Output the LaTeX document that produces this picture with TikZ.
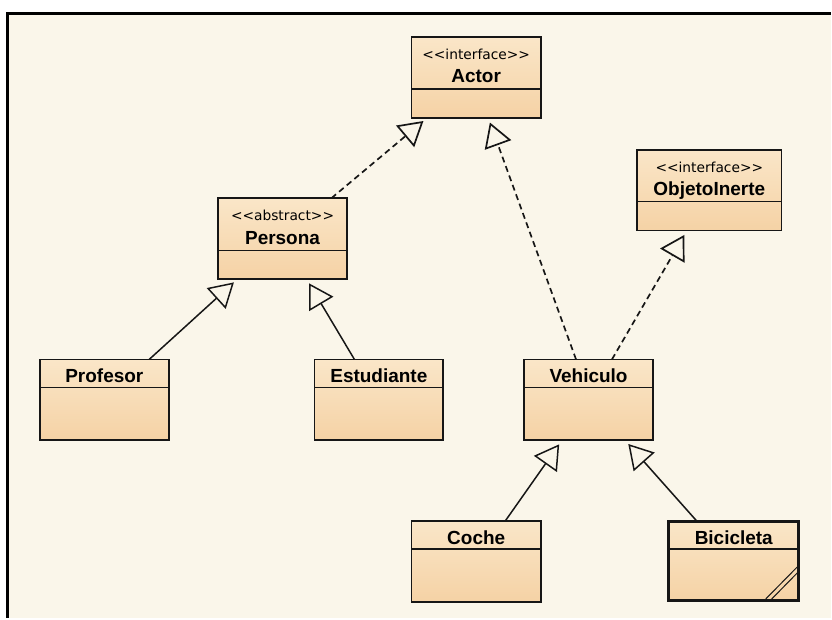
\documentclass[tikz,border=0pt]{standalone}
\usepackage{fontspec}
\setmainfont{Liberation Sans}
\newfontfamily\stereofont{DejaVu Sans}
\usetikzlibrary{arrows.meta,calc}
\definecolor{paper}{RGB}{250,246,234}
\definecolor{clsbody}{RGB}{245,210,165}
\definecolor{clshead}{RGB}{250,230,200}
\definecolor{ink}{RGB}{22,22,22}

\begin{document}
\begin{tikzpicture}[x=1pt,y=-1pt]

\tikzstyle{cls}=[draw=ink, line width=1.6pt, top color=clshead, bottom color=clsbody, minimum width=129pt, minimum height=81pt, inner sep=0pt, outer sep=0pt]
\tikzstyle{title}=[anchor=base, inner sep=0pt, font=\fontsize{19}{21}\selectfont\bfseries]
\tikzstyle{stereo}=[anchor=base, inner sep=0pt, font=\stereofont\fontsize{13.8}{15}\selectfont]
\tikzstyle{divider}=[draw=ink, line width=1.6pt]
\tikzstyle{gen}=[draw=ink, line width=1.5pt, -{Triangle[open, length=24pt, width=28pt]}, shorten >=5pt]
\tikzstyle{real}=[gen, line width=1.7pt, dash pattern=on 6pt off 4pt]

\fill[white] (0,0) rectangle (832,619);
\fill[paper] (7.3,13.3) rectangle (832,619);
\draw[line width=2.8pt, black] (7.3,619) -- (7.3,13.3) -- (832,13.3);

\node[cls, minimum width=130pt] (actor) at (477,77.5) {};
\node[stereo] (actorSt) at ($(actor.north)+(0,23)$) {<<interface>>};
\node[title] (actorNm) at ($(actor.north)+(0,46)$) {Actor};
\draw[divider] ($(actor.north west)+(0,52)$) -- ($(actor.north east)+(0,52)$);

\node[cls, minimum width=145pt] (objeto) at (710.5,190.5) {};
\node[stereo] (objetoSt) at ($(objeto.north)+(0,23)$) {<<interface>>};
\node[title] (objetoNm) at ($(objeto.north)+(0,46)$) {ObjetoInerte};
\draw[divider] ($(objeto.north west)+(0,52)$) -- ($(objeto.north east)+(0,52)$);

\node[cls] (persona) at (283,239) {};
\node[stereo] (personaSt) at ($(persona.north)+(0,22)$) {<<abstract>>};
\node[title] (personaNm) at ($(persona.north)+(0,46)$) {Persona};
\draw[divider] ($(persona.north west)+(0,52.5)$) -- ($(persona.north east)+(0,52.5)$);

\node[cls] (profesor) at (104.5,400.5) {};
\node[title] (profesorNm) at ($(profesor.north)+(0,23)$) {Profesor};
\draw[divider] ($(profesor.north west)+(0,28)$) -- ($(profesor.north east)+(0,28)$);

\node[cls] (estudiante) at (379.5,400.5) {};
\node[title] (estudianteNm) at ($(estudiante.north)+(0,23)$) {Estudiante};
\draw[divider] ($(estudiante.north west)+(0,28)$) -- ($(estudiante.north east)+(0,28)$);

\node[cls] (vehiculo) at (589.5,400.5) {};
\node[title] (vehiculoNm) at ($(vehiculo.north)+(0,23)$) {Vehiculo};
\draw[divider] ($(vehiculo.north west)+(0,28)$) -- ($(vehiculo.north east)+(0,28)$);

\node[cls, minimum width=130pt] (coche) at (477,562.5) {};
\node[title] (cocheNm) at ($(coche.north)+(0,23)$) {Coche};
\draw[divider] ($(coche.north west)+(0,28)$) -- ($(coche.north east)+(0,28)$);

\node[cls, minimum width=130pt, minimum height=80pt, line width=3pt] (bici) at (735,562) {};
\node[title] (biciNm) at ($(bici.north)+(0,23)$) {Bicicleta};
\draw[divider] ($(bici.north west)+(0,28)$) -- ($(bici.north east)+(0,28)$);
\draw[ink, line width=1pt] ($(bici.south east)+(-33,-2)$) -- ($(bici.south east)+(-1.5,-34)$);
\draw[ink, line width=1pt] ($(bici.south east)+(-27,-2)$) -- ($(bici.south east)+(-1.5,-28)$);

\draw[gen] ([xshift=45pt]profesor.north) -- ([xshift=-45pt]persona.south);
\draw[gen] ([xshift=-24.5pt]estudiante.north) -- ([xshift=24pt]persona.south);
\draw[real] ([xshift=49pt]persona.north) -- ([xshift=-49pt]actor.south);
\draw[real] ([xshift=-12.5pt]vehiculo.north) -- ([xshift=12pt]actor.south);
\draw[real] ([xshift=23.5pt]vehiculo.north) -- ([xshift=-22.5pt]objeto.south);
\draw[gen] ([xshift=29pt]coche.north) -- ([xshift=-26.5pt]vehiculo.south);
\draw[gen] ([xshift=-37pt]bici.north) -- ([xshift=36.5pt]vehiculo.south);
\end{tikzpicture}
\end{document}
